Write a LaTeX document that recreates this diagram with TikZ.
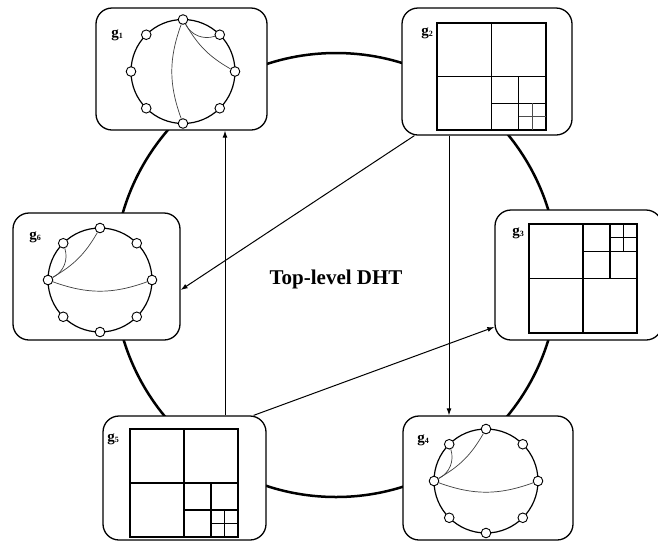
\documentclass[tikz,border=0pt]{standalone}
\usepackage{fontspec}
\setmainfont{Liberation Serif}
\usetikzlibrary{calc,arrows.meta}

% ring of eight peers with its centre given; nodes are named <name>p0 .. <name>p7 (east, counter-clockwise)
\newcommand\peerring[2]{%
  \draw[line width=1.2pt] (#2) circle[radius=52pt];
  \foreach \k in {0,...,7} \node[peer] (#1p\k) at ($(#2)+(\k*45:52pt)$) {};
}
\newcommand\glab[1]{g\raisebox{-1.2pt}{\fontsize{8}{8}\selectfont #1}}

\begin{document}
\begin{tikzpicture}[x=1pt,y=-1pt,
  box/.style={draw, fill=white, line width=1.3pt, rounded corners=16pt, inner sep=0pt},
  ring/.style={line width=2.5pt},
  arr/.style={-{Latex[length=7pt,width=5pt]}, line width=1pt},
  peer/.style={circle, draw, fill=white, line width=0.9pt, minimum size=9.6pt, inner sep=0pt},
  chord/.style={draw=black!75, line width=0.7pt},
  quadout/.style={line width=1.5pt},
  quadin/.style={line width=1.1pt},
  quadfine/.style={line width=0.9pt, draw=black!70},
  glabel/.style={font=\bfseries\fontsize{15}{15}\selectfont, inner sep=0pt},
]
\useasboundingbox (0,0) rectangle (658,542);

% top-level ring
\draw[ring] (336,275) circle[radius=222pt];
\node[font=\bfseries\fontsize{21}{21}\selectfont, anchor=base] (title) at (336,284) {Top-level DHT};

% group boxes
\node[box, minimum width=171pt, minimum height=122pt] (g1) at (181.5,69) {};
\node[box, minimum width=170pt, minimum height=127pt] (g2) at (487,71.5) {};
\node[box, minimum width=167pt, minimum height=130pt] (g3) at (578.5,275) {};
\node[box, minimum width=170pt, minimum height=124pt] (g4) at (488,478) {};
\node[box, minimum width=163pt, minimum height=124pt] (g5) at (184.5,478) {};
\node[box, minimum width=167pt, minimum height=127pt] (g6) at (96.5,276.5) {};

\node[glabel] (l1) at (117,35) {\glab{1}};
\node[glabel] (l2) at (427,33) {\glab{2}};
\node[glabel] (l3) at (518,233) {\glab{3}};
\node[glabel] (l4) at (423,440) {\glab{4}};
\node[glabel] (l5) at (113,439) {\glab{5}};
\node[glabel] (l6) at (35,237) {\glab{6}};

% chord-style rings
\coordinate (c1) at (183,71.5);
\coordinate (c4) at (486,481);
\coordinate (c6) at (100,280);
\peerring{r1}{c1}
\peerring{r4}{c4}
\peerring{r6}{c6}
\draw[chord] (r1p2) to[bend right=40] (r1p1);
\draw[chord] (r1p2) to[bend right=15] (r1p0);
\draw[chord] (r1p2) to[bend right=20] (r1p6);
\draw[chord] (r4p4) to[bend right=40] (r4p3);
\draw[chord] (r4p4) to[bend right=15] (r4p2);
\draw[chord] (r4p4) to[bend right=20] (r4p0);
\draw[chord] (r6p4) to[bend right=40] (r6p3);
\draw[chord] (r6p4) to[bend right=15] (r6p2);
\draw[chord] (r6p4) to[bend right=20] (r6p0);

% quadtree in g2 (refined towards bottom right)
\draw[quadout] (437,23) rectangle (546,130);
\draw[quadin] (491.5,23) -- (491.5,130) (437,76.5) -- (546,76.5);
\draw[quadin] (518.75,76.5) -- (518.75,130) (491.5,103.25) -- (546,103.25);
\draw[quadfine] (532.4,103.25) -- (532.4,130) (518.75,116.6) -- (546,116.6);

% quadtree in g3 (refined towards top right)
\draw[quadout] (529,224) rectangle (637,333);
\draw[quadin] (583,224) -- (583,333) (529,278.5) -- (637,278.5);
\draw[quadin] (610,224) -- (610,278.5) (583,251.25) -- (637,251.25);
\draw[quadin] (623.5,224) -- (623.5,251.25) (610,237.6) -- (637,237.6);

% quadtree in g5 (refined towards bottom right)
\draw[quadout] (130,429) rectangle (238,537);
\draw[quadin] (184,429) -- (184,537) (130,483) -- (238,483);
\draw[quadin] (211,483) -- (211,537) (184,510) -- (238,510);
\draw[quadin] (224.5,510) -- (224.5,537) (211,523.5) -- (238,523.5);

% links between groups
\draw[arr] ([xshift=13pt]g2.south west) -- ([yshift=-13.5pt]g6.east);
\draw[arr] ([xshift=-38pt]g2.south) -- ([xshift=-39pt]g4.north);
\draw[arr] ([xshift=40.5pt]g5.north) -- ([xshift=43.5pt]g1.south);
\draw[arr] ([xshift=-13pt]g5.north east) -- ([yshift=-52pt]g3.west);
\end{tikzpicture}
\end{document}
